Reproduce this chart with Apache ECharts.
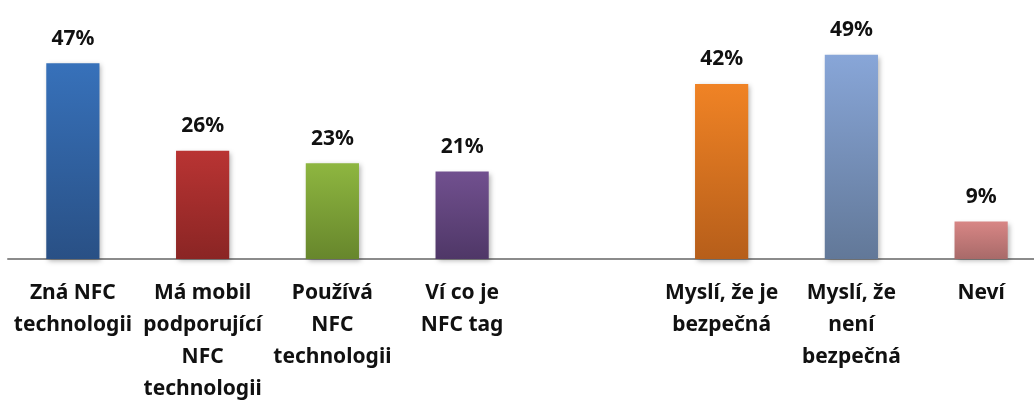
<!DOCTYPE html>
<html>
<head>
<meta charset="utf-8">
<script src="https://cdn.jsdelivr.net/npm/echarts@6/dist/echarts.min.js"></script>
<style>
html, body { margin: 0; padding: 0; background: #fff; }
#chart { width: 1034px; height: 402px; }
</style>
</head>
<body>
<div id="chart"></div>
<script>
// kategorie (páté místo je prázdná mezera mezi skupinami)
var categories = [
    'Zná NFC\ntechnologii',
    'Má mobil\npodporující\nNFC\ntechnologii',
    'Používá\nNFC\ntechnologii',
    'Ví co je\nNFC tag',
    '',
    'Myslí, že je\nbezpečná',
    'Myslí, že\nnení\nbezpečná',
    'Neví'
];
var values = [47, 26, 23, 21, null, 42, 49, 9];

// barvy sloupců: horní / dolní část přechodu
var topColors = ['#3771BA', '#B93433', '#8EB640', '#71508F', '#000', '#F08325', '#88A6D8', '#D88685'];
var bottomColors = ['#295085', '#8A2524', '#67862C', '#4F3767', '#000', '#B65E1A', '#627898', '#A86A69'];

var chart = echarts.init(document.getElementById('chart'));

var seriesData = values.map(function (v, i) {
    if (v == null) return '-';
    return {
        value: v,
        itemStyle: {
            color: new echarts.graphic.LinearGradient(0, 0, 0, 1, [
                { offset: 0, color: topColors[i] },
                { offset: 1, color: bottomColors[i] }
            ])
        }
    };
});

var textFont = {
    color: '#111',
    fontFamily: 'Noto Sans',
    fontWeight: 'bold',
    fontSize: 21
};

var option = {
    animation: false,
    grid: {
        left: 8,
        right: -12,
        top: 9,
        bottom: 143,
        containLabel: false,
        outerBoundsMode: 'none'
    },
    xAxis: {
        type: 'category',
        data: categories,
        axisTick: { show: false },
        axisLine: {
            lineStyle: { color: '#8B8B8B', width: 2 }
        },
        axisLabel: Object.assign({
            interval: 0,
            margin: 18,
            lineHeight: 32
        }, textFont)
    },
    yAxis: {
        type: 'value',
        min: 0,
        max: 60,
        show: false,
        splitLine: { show: false }
    },
    series: [
        {
            type: 'bar',
            barWidth: '41%',
            data: seriesData,
            itemStyle: {
                shadowBlur: 5,
                shadowColor: 'rgba(0,0,0,0.3)',
                shadowOffsetX: 2,
                shadowOffsetY: 2
            },
            label: Object.assign({
                show: true,
                position: 'top',
                distance: 14,
                formatter: function (p) {
                    return p.value + '%';
                }
            }, textFont)
        }
    ]
};

chart.setOption(option);
</script>
</body>
</html>
